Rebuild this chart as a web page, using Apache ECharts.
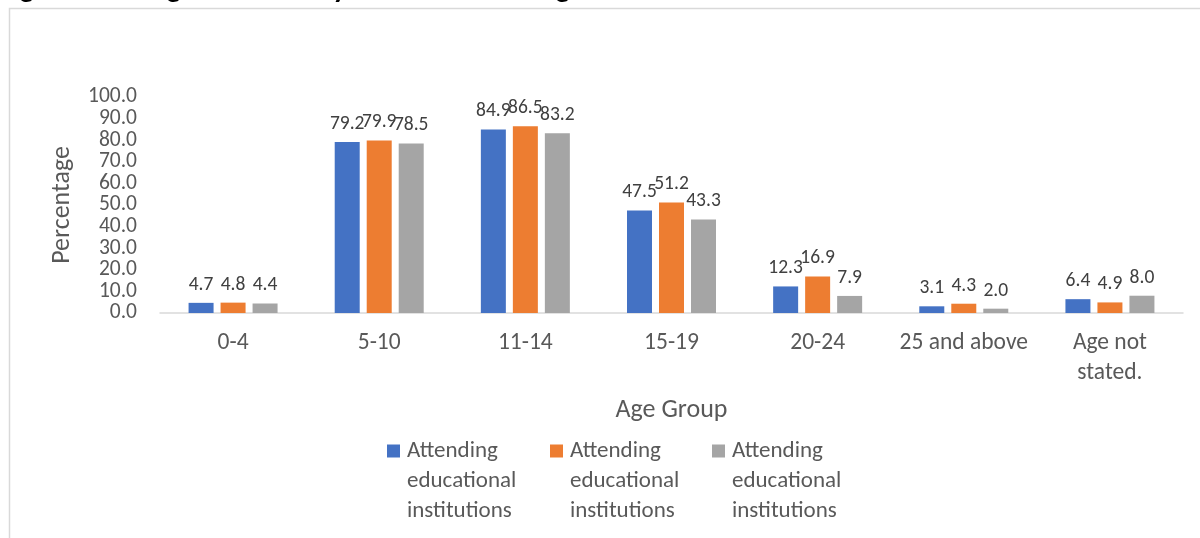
<!DOCTYPE html>
<html>
<head>
<meta charset="utf-8">
<script src="https://cdn.jsdelivr.net/npm/echarts@6/dist/echarts.min.js"></script>
<style>html,body{margin:0;padding:0;background:#fff}#c{width:1200px;height:538px}</style>
</head>
<body>
<div id="c"></div>
<script>
const titleText = 'Figure 2.26: Age-Wise Malayali Tribe Attending Educational Institutions Tamil Nadu-2011';
const categories = ['0-4', '5-10', '11-14', '15-19', '20-24', '25 and above', 'Age not\nstated.'];
const seriesNames = ['Attending educational institutions A', 'Attending educational institutions B', 'Attending educational institutions C'];
const legendLabel = 'Attending\neducational\ninstitutions';
const valuesA = [4.7, 79.2, 84.9, 47.5, 12.3, 3.1, 6.4];
const valuesB = [4.8, 79.9, 86.5, 51.2, 16.9, 4.3, 4.9];
const valuesC = [4.4, 78.5, 83.2, 43.3, 7.9, 2.0, 8.0];
const yTicks = [0, 10, 20, 30, 40, 50, 60, 70, 80, 90, 100];

const FONT = 'Carlito, Lato, sans-serif';
const colors = ['#4472C4', '#ED7D31', '#A5A5A5'];
const allValues = [valuesA, valuesB, valuesC];

const chart = echarts.init(document.getElementById('c'), null, {renderer: 'canvas'});

const legendLefts = [387, 550, 712];
const legends = seriesNames.map((n, i) => ({
  data: [n],
  left: legendLefts[i],
  top: 376,
  padding: 0,
  itemWidth: 13,
  itemHeight: 13,
  icon: 'rect',
  selectedMode: false,
  formatter: () => '\n\n' + legendLabel,
  textStyle: {fontFamily: FONT, fontSize: 23, color: '#595959', lineHeight: 30, padding: [0, 0, 0, 2]}
}));

const yLabelBase = {fontFamily: FONT, fontSize: 21.5, color: '#595959', margin: 23, hideOverlap: false};
const yBase = {
  type: 'value',
  position: 'left',
  offset: 0,
  min: yTicks[0],
  max: yTicks[yTicks.length - 1],
  interval: yTicks[1] - yTicks[0],
  axisLine: {show: false},
  axisTick: {show: false},
  splitLine: {show: false}
};

chart.setOption({
  animation: false,
  color: colors,
  title: {
    text: titleText,
    left: -1,
    top: -25,
    padding: 0,
    textStyle: {fontFamily: FONT, fontSize: 29.5, fontWeight: 'bold', color: '#000'}
  },
  graphic: [{
    type: 'rect',
    shape: {x: 9.5, y: 8.5, width: 1300, height: 700},
    style: {fill: 'none', stroke: '#d9d9d9', lineWidth: 1.5},
    silent: true,
    z: -10
  }],
  legend: legends,
  grid: {left: 160, right: 17, top: 97, bottom: 225, containLabel: false},
  xAxis: {
    type: 'category',
    data: categories,
    name: 'Age Group',
    nameLocation: 'middle',
    nameGap: 84,
    nameTextStyle: {fontFamily: FONT, fontSize: 26, color: '#595959'},
    axisLine: {lineStyle: {color: '#d9d9d9', width: 1.5}},
    axisTick: {show: false},
    axisLabel: {fontFamily: FONT, fontSize: 23.5, color: '#595959', margin: 15, lineHeight: 30, interval: 0}
  },
  yAxis: [
    Object.assign({}, yBase, {
      name: 'Percentage',
      nameLocation: 'middle',
      nameGap: 85,
      nameRotate: 90,
      nameTextStyle: {fontFamily: FONT, fontSize: 26, color: '#595959'},
      axisLabel: Object.assign({}, yLabelBase, {
        showMinLabel: true, showMaxLabel: true,
        formatter: v => (Math.round(v) % 20 === 0 ? v.toFixed(1) : '')
      })
    }),
    Object.assign({}, yBase, {
      axisLabel: Object.assign({}, yLabelBase, {
        showMinLabel: false, showMaxLabel: false,
        formatter: v => (Math.round(v) % 20 !== 0 ? v.toFixed(1) : '')
      })
    })
  ],
  series: seriesNames.map((n, i) => ({
    name: n,
    type: 'bar',
    yAxisIndex: 0,
    data: allValues[i],
    barWidth: 25,
    barGap: '28%',
    itemStyle: {color: colors[i]},
    label: {
      show: true,
      position: 'top',
      distance: 8,
      fontFamily: FONT,
      fontSize: 19.5,
      color: '#404040',
      formatter: p => p.value.toFixed(1)
    }
  }))
});
</script>
</body>
</html>
